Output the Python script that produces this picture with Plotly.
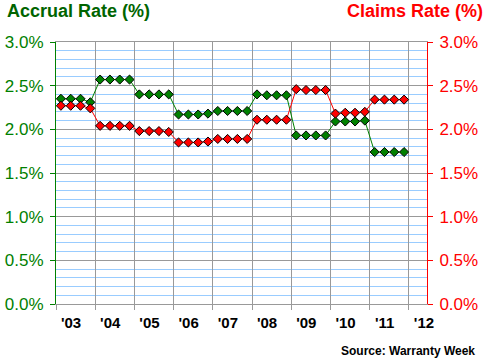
import plotly.graph_objects as go

# Quarterly data, 2003 Q1 .. 2011 Q4
years = [2003, 2004, 2005, 2006, 2007, 2008, 2009, 2010, 2011]
quarters = [1, 2, 3, 4]
accrual_rate = [
    2.35, 2.35, 2.35, 2.31,
    2.57, 2.57, 2.57, 2.57,
    2.40, 2.40, 2.40, 2.40,
    2.17, 2.17, 2.17, 2.18,
    2.21, 2.21, 2.21, 2.21,
    2.40, 2.39, 2.39, 2.39,
    1.93, 1.93, 1.93, 1.93,
    2.09, 2.09, 2.09, 2.10,
    1.74, 1.74, 1.74, 1.74,
]
claims_rate = [
    2.27, 2.27, 2.27, 2.24,
    2.04, 2.04, 2.04, 2.04,
    1.98, 1.98, 1.98, 1.97,
    1.85, 1.85, 1.85, 1.86,
    1.89, 1.89, 1.89, 1.89,
    2.11, 2.11, 2.11, 2.11,
    2.46, 2.45, 2.45, 2.45,
    2.18, 2.19, 2.19, 2.20,
    2.34, 2.34, 2.34, 2.34,
]
tick_years = [2003, 2004, 2005, 2006, 2007, 2008, 2009, 2010, 2011, 2012]
tick_labels = ["'03", "'04", "'05", "'06", "'07", "'08", "'09", "'10", "'11", "'12"]

x = [y + (q - 0.5) / 4 for y in years for q in quarters]

GREEN = "#008000"
DKGREEN = "#006400"
RED = "#ff0000"
FONT = "Liberation Sans, Arial, sans-serif"

fig = go.Figure()
fig.add_trace(go.Scatter(
    x=x, y=claims_rate, mode="lines+markers", yaxis="y2",
    line=dict(color=RED, width=1),
    marker=dict(symbol="diamond", size=7, color=RED, line=dict(color="black", width=1)),
    showlegend=False))
fig.add_trace(go.Scatter(
    x=x, y=accrual_rate, mode="lines+markers",
    line=dict(color=GREEN, width=1),
    marker=dict(symbol="diamond", size=7, color=GREEN, line=dict(color="black", width=1)),
    showlegend=False))

fig.update_layout(
    width=486, height=362,
    margin=dict(l=56, r=59, t=42, b=58, autoexpand=False),
    paper_bgcolor="white", plot_bgcolor="white",
    font=dict(family=FONT),
    xaxis=dict(
        range=[2003, 2012.46], tickvals=tick_years, ticktext=tick_labels,
        showgrid=True, gridcolor="#999999", gridwidth=1,
        showline=True, linecolor="#999999", linewidth=1, mirror=True,
        ticks="outside", ticklen=5, tickcolor="#999999",
        tickfont=dict(size=15, color="black", family=FONT, weight="bold"),
        ticklabelshift=15, zeroline=False, fixedrange=True, automargin=False,
    ),
    yaxis=dict(
        range=[0, 3], dtick=0.5, tick0=0, tickformat=".1f", ticksuffix="%",
        showgrid=True, gridcolor="#999999", gridwidth=1,
        minor=dict(dtick=0.1, showgrid=True, gridcolor="#99ccff", gridwidth=1),
        showline=True, linecolor=GREEN, linewidth=1,
        ticks="outside", ticklen=5, tickcolor=GREEN,
        tickfont=dict(size=17, color=GREEN, family=FONT),
        ticklabelstandoff=3,
        zeroline=False, fixedrange=True, automargin=False,
    ),
    yaxis2=dict(
        range=[0, 3], dtick=0.5, tick0=0, tickformat=".1f", ticksuffix="%",
        overlaying="y", side="right", showgrid=False,
        showline=True, linecolor=RED, linewidth=1,
        ticks="outside", ticklen=5, tickcolor=RED,
        tickfont=dict(size=17, color=RED, family=FONT),
        ticklabelstandoff=3,
        zeroline=False, fixedrange=True, automargin=False,
    ),
    annotations=[
        dict(text="Accrual Rate (%)", xref="paper", yref="paper", x=-51/371, y=1 + 31/262,
             xanchor="left", yanchor="middle", showarrow=False,
             font=dict(size=18, color=DKGREEN, family=FONT, weight="bold")),
        dict(text="Claims Rate (%)", xref="paper", yref="paper", x=1 + 58/371, y=1 + 31/262,
             xanchor="right", yanchor="middle", showarrow=False,
             font=dict(size=18, color=RED, family=FONT, weight="bold")),
        dict(text="Source: Warranty Week", xref="paper", yref="paper", x=1 + 50/371, y=-47/262,
             xanchor="right", yanchor="middle", showarrow=False,
             font=dict(size=12, color="black", family=FONT, weight="bold")),
    ],
)

fig.write_html("out.html", config={"displayModeBar": False},
               post_script="document.body.style.margin='0';")
